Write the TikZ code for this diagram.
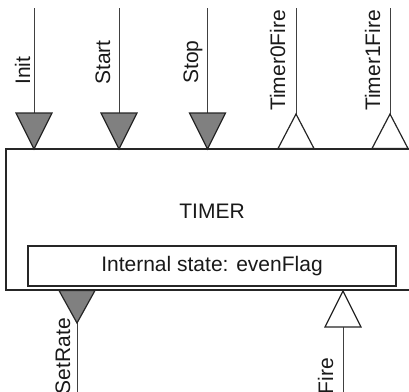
\documentclass[tikz,border=0pt]{standalone}
\usepackage{fontspec}
\setmainfont{Liberation Sans}
\begin{document}
\begin{tikzpicture}[x=1pt,y=-1pt, line join=miter,
  frame/.style={draw=black!85, line width=1.5pt, inner sep=0pt},
  wire/.style={draw=black!75, line width=1pt},
  intri/.style={draw=black!85, fill=black!50, line width=1.2pt},
  outtri/.style={draw=black!85, fill=white, line width=1.2pt},
  txt/.style={inner sep=0pt, text=black!90, font=\fontsize{21}{25}\selectfont},
  lbl/.style={txt, rotate=90}]
\useasboundingbox (0,0) rectangle (409,391);
% main block
\node[frame, minimum width=405pt, minimum height=141pt] (timer) at (208.5,219.5) {};
\node[txt] (title) at (212,211) {TIMER};
\node[frame, txt, minimum width=368pt, minimum height=40pt] (state) at (212,266) {Internal state: evenFlag};
% top input ports (filled, pointing down)
\coordinate (init-end) at (34,8);   \coordinate (init-base) at (34,113);  \coordinate (init-tip) at (34,149);
\coordinate (start-end) at (119,8); \coordinate (start-base) at (119,113); \coordinate (start-tip) at (119,149);
\coordinate (stop-end) at (207.5,8); \coordinate (stop-base) at (207.5,113); \coordinate (stop-tip) at (207.5,149);
\draw[wire] (init-end) -- (init-base);
\draw[wire] (start-end) -- (start-base);
\draw[wire] (stop-end) -- (stop-base);
\draw[intri] (init-tip) -- ([xshift=-18pt]init-base) -- ([xshift=18pt]init-base) -- cycle;
\draw[intri] (start-tip) -- ([xshift=-18pt]start-base) -- ([xshift=18pt]start-base) -- cycle;
\draw[intri] (stop-tip) -- ([xshift=-18pt]stop-base) -- ([xshift=18pt]stop-base) -- cycle;
\node[lbl, anchor=base west] (init-lbl) at (30,85) {Init};
\node[lbl, anchor=base west] (start-lbl) at (110,85) {Start};
\node[lbl, anchor=base west] (stop-lbl) at (198,84) {Stop};
% top output ports (open, pointing up)
\coordinate (t0-end) at (296,8); \coordinate (t0-tip) at (296,114); \coordinate (t0-base) at (296,148.5);
\coordinate (t1-end) at (390,8); \coordinate (t1-tip) at (390,114); \coordinate (t1-base) at (390,148.5);
\draw[wire] (t0-end) -- (t0-tip);
\draw[wire] (t1-end) -- (t1-tip);
\draw[outtri] (t0-tip) -- ([xshift=-18pt]t0-base) -- ([xshift=18pt]t0-base) -- cycle;
\draw[outtri] (t1-tip) -- ([xshift=-18pt]t1-base) -- ([xshift=18pt]t1-base) -- cycle;
\node[lbl, anchor=base west] (t0-lbl) at (285,111) {Timer0Fire};
\node[lbl, anchor=base west] (t1-lbl) at (380,111) {Timer1Fire};
% bottom input port SetRate (filled, pointing down)
\coordinate (sr-base) at (77,290.5); \coordinate (sr-tip) at (77,323); \coordinate (sr-end) at (77,395);
\draw[wire] (sr-tip) -- (sr-end);
\draw[intri] (sr-tip) -- ([xshift=-18pt]sr-base) -- ([xshift=18pt]sr-base) -- cycle;
\node[lbl, anchor=base east] (sr-lbl) at (70,318) {SetRate};
% bottom output port Fire (open, pointing up)
\coordinate (f-tip) at (343,291); \coordinate (f-base) at (343,327); \coordinate (f-end) at (343,395);
\draw[wire] (f-base) -- (f-end);
\draw[outtri] (f-tip) -- ([xshift=-18pt]f-base) -- ([xshift=18pt]f-base) -- cycle;
\node[lbl, anchor=base east] (f-lbl) at (333,358) {Fire};
\end{tikzpicture}
\end{document}
